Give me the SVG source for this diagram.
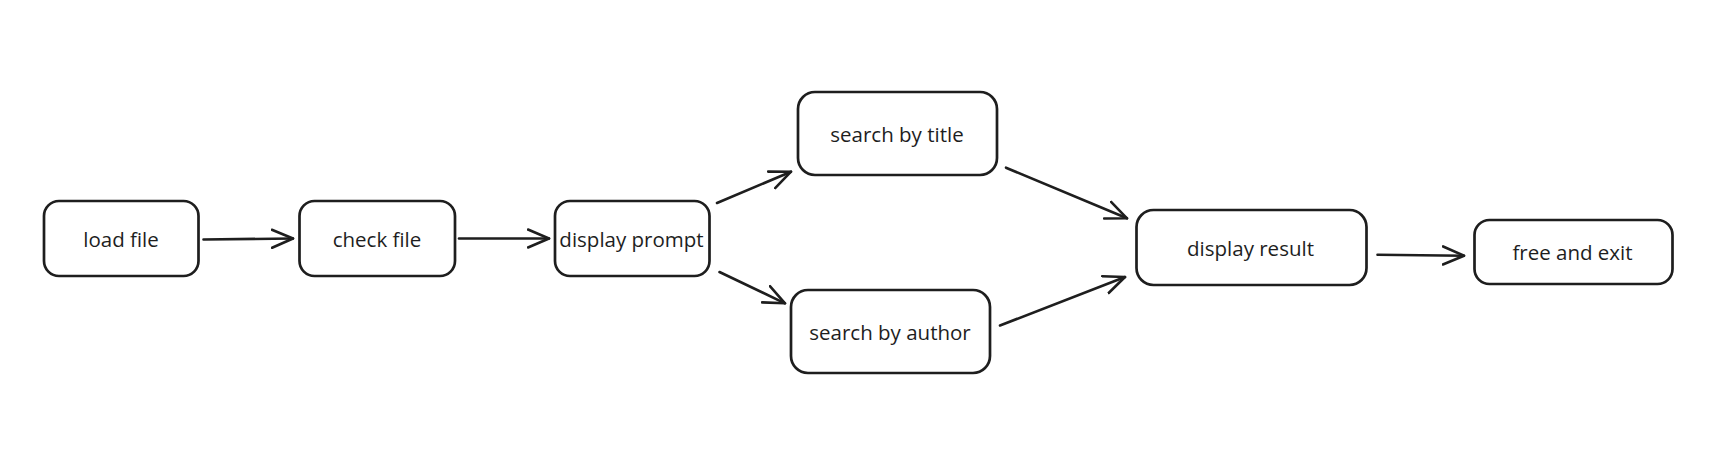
<svg xmlns="http://www.w3.org/2000/svg" width="1729" height="465" viewBox="0 0 1729 465">
<style>
.box{fill:#ffffff;stroke:#1e1e1e;stroke-width:2.7}
.lbl{font-family:"Open Sans","Liberation Sans",sans-serif;font-size:20.5px;fill:#1e1e1e;text-anchor:middle;dominant-baseline:central}
.edge{stroke:#1e1e1e;stroke-width:2.6;fill:none;stroke-linecap:round;marker-end:url(#arr)}
</style>
<defs>
<marker id="arr" markerUnits="userSpaceOnUse" viewBox="0 0 24 24" refX="22" refY="12" markerWidth="24" markerHeight="24" orient="auto">
<path d="M1,3 L22,12 L1,21" fill="none" stroke="#1e1e1e" stroke-width="2.6" stroke-linecap="round" stroke-linejoin="round"/>
</marker>
</defs>
<rect width="1729" height="465" fill="#ffffff"/>
<g id="connectors">
<line class="edge" x1="203.5" y1="239.5" x2="293" y2="238.5"/>
<line class="edge" x1="459" y1="238.5" x2="549" y2="238.5"/>
<line class="edge" x1="717" y1="203" x2="791" y2="171.7"/>
<line class="edge" x1="719.5" y1="272" x2="785" y2="303.3"/>
<line class="edge" x1="1006" y1="167.7" x2="1127" y2="218.3"/>
<line class="edge" x1="1000" y1="325.5" x2="1125" y2="277"/>
<line class="edge" x1="1377.5" y1="254.7" x2="1464" y2="255.7"/>
</g>
<g id="load-file">
<rect class="box" x="44" y="201" width="154.5" height="75" rx="15"/>
<text class="lbl" x="121" y="238.5">load file</text>
</g>
<g id="check-file">
<rect class="box" x="299.5" y="201" width="155.5" height="75" rx="15"/>
<text class="lbl" x="377" y="238.5">check file</text>
</g>
<g id="display-prompt">
<rect class="box" x="555" y="201" width="154.5" height="75" rx="15"/>
<text class="lbl" x="631.5" y="238.5">display prompt</text>
</g>
<g id="search-by-title">
<rect class="box" x="798" y="92" width="199" height="83" rx="17"/>
<text class="lbl" x="897" y="133.5">search by title</text>
</g>
<g id="search-by-author">
<rect class="box" x="791" y="290" width="199" height="83" rx="17"/>
<text class="lbl" x="890" y="331.5">search by author</text>
</g>
<g id="display-result">
<rect class="box" x="1136.5" y="210" width="230" height="75" rx="17"/>
<text class="lbl" x="1250.5" y="247.5">display result</text>
</g>
<g id="free-and-exit">
<rect class="box" x="1474.5" y="220" width="198" height="64" rx="15"/>
<text class="lbl" x="1572.5" y="251.5">free and exit</text>
</g>
</svg>
